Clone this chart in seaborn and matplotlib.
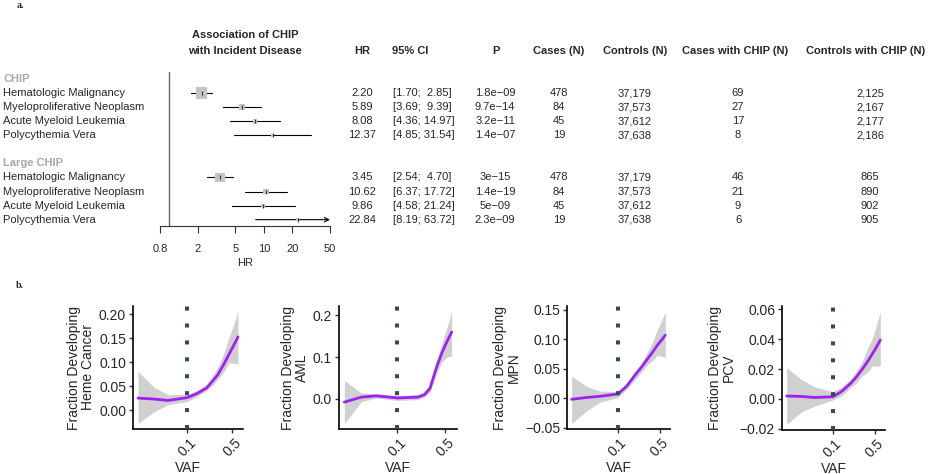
import matplotlib
matplotlib.use("Agg")
import matplotlib.pyplot as plt
import matplotlib.transforms as mtransforms
from matplotlib.ticker import FixedLocator, FuncFormatter, MultipleLocator, NullLocator
import numpy as np
import pandas as pd
import seaborn as sns

# ---- panel a: association of CHIP with incident disease ----
GROUPS = ["CHIP", "Large CHIP"]
OUTCOMES = ["Hematologic Malignancy", "Myeloproliferative Neoplasm",
            "Acute Myeloid Leukemia", "Polycythemia Vera"]
HR = [2.20, 5.89, 8.08, 12.37, 3.45, 10.62, 9.86, 22.84]
CI_LOW = [1.70, 3.69, 4.36, 4.85, 2.54, 6.37, 4.58, 8.19]
CI_HIGH = [2.85, 9.39, 14.97, 31.54, 4.70, 17.72, 21.24, 63.72]
P_VALUES = ["1.8e\u221209", "9.7e\u221214", "3.2e\u221211", "1.4e\u221207",
            "3e\u221215", "1.4e\u221219", "5e\u221209", "2.3e\u221209"]
CASES = [478, 84, 45, 19, 478, 84, 45, 19]
CONTROLS = [37179, 37573, 37612, 37638, 37179, 37573, 37612, 37638]
CASES_CHIP = [69, 27, 17, 8, 46, 21, 9, 6]
CONTROLS_CHIP = [2125, 2167, 2177, 2186, 865, 890, 902, 905]
HR_TICKS = [0.8, 2, 5, 10, 20, 50]

# ---- panel b: smoothed fraction developing disease by VAF ----
VAF = [0.017, 0.03, 0.05, 0.1, 0.14, 0.2, 0.25, 0.3, 0.38, 0.45, 0.53, 0.62]
HEME_FIT = [0.025, 0.023, 0.020, 0.026, 0.034, 0.046, 0.061, 0.074, 0.098, 0.117, 0.135, 0.153]
HEME_LO = [-0.028, -0.004, 0.011, 0.018, 0.028, 0.041, 0.052, 0.064, 0.082, 0.099, 0.098, 0.096]
HEME_HI = [0.081, 0.048, 0.032, 0.033, 0.041, 0.053, 0.072, 0.089, 0.122, 0.153, 0.178, 0.206]
AML_FIT = [-0.008, 0.004, 0.007, 0.002, 0.003, 0.004, 0.010, 0.025, 0.079, 0.111, 0.137, 0.160]
AML_LO = [-0.059, -0.007, 0.002, -0.004, -0.003, -0.002, 0.004, 0.017, 0.064, 0.088, 0.100, 0.103]
AML_HI = [0.044, 0.014, 0.012, 0.008, 0.009, 0.010, 0.017, 0.033, 0.095, 0.135, 0.170, 0.209]
MPN_FIT = [-0.002, 0.001, 0.003, 0.007, 0.020, 0.041, 0.053, 0.064, 0.078, 0.089, 0.098, 0.107]
MPN_LO = [-0.043, -0.022, -0.007, 0.001, 0.015, 0.033, 0.045, 0.055, 0.064, 0.072, 0.071, 0.069]
MPN_HI = [0.037, 0.020, 0.012, 0.011, 0.025, 0.047, 0.060, 0.075, 0.095, 0.115, 0.130, 0.147]
PCV_FIT = [0.0020, 0.0017, 0.0010, 0.0015, 0.0050, 0.0106, 0.0150, 0.0192, 0.0250, 0.0298, 0.0345, 0.0395]
PCV_LO = [-0.017, -0.0086, -0.0047, -0.0007, 0.002, 0.0079, 0.011, 0.015, 0.018, 0.022, 0.022, 0.0224]
PCV_HI = [0.021, 0.013, 0.008, 0.005, 0.008, 0.0133, 0.019, 0.024, 0.034, 0.040, 0.049, 0.0585]
PANEL_LABELS = ["Fraction Developing\nHeme Cancer", "Fraction Developing\nAML",
                "Fraction Developing\nMPN", "Fraction Developing\nPCV"]
VAF_CUTOFF = 0.1

W, H = 930, 474
SANS = ["Liberation Sans", "DejaVu Sans"]
SERIF = ["Liberation Serif", "DejaVu Serif"]


def px_box(left, top, right, bottom):
    return [left / W, 1 - bottom / H, (right - left) / W, (bottom - top) / H]


def minus_fmt(decimals):
    return FuncFormatter(lambda v, _: f"{v:.{decimals}f}".replace("-", "\u2212"))


def forest_panel(fig):
    ax = fig.add_axes(px_box(160, 72, 330, 226))
    n = len(OUTCOMES)
    df = pd.DataFrame({
        "group": np.repeat(GROUPS, n),
        "outcome": OUTCOMES * len(GROUPS),
        "hr": HR, "lo": CI_LOW, "hi": CI_HIGH,
    })
    df["row"] = [g * (n + 2) + 1 + i for g in range(len(GROUPS)) for i in range(n)]
    # inverse-variance weight sets box area
    se = (np.log(df["hi"]) - np.log(df["lo"])) / 3.92
    df["weight"] = 1 / se ** 2

    xmax = HR_TICKS[-1]
    for _, r in df.iterrows():
        if r["hi"] > xmax:
            ax.annotate("", xy=(xmax, r["row"]), xytext=(r["lo"], r["row"]),
                        arrowprops=dict(arrowstyle="->", lw=0.8, color="black",
                                        shrinkA=0, shrinkB=0, mutation_scale=8))
        else:
            ax.plot([r["lo"], r["hi"]], [r["row"], r["row"]], color="black", lw=0.8)
    wmin, wmax = df["weight"].min(), df["weight"].max()
    sns.scatterplot(data=df, x="hr", y="row", size="weight", sizes=(wmin * 1.15, wmax * 1.15),
                    size_norm=(wmin, wmax), marker="s", color="#c4c4c4", edgecolor="none",
                    legend=False, ax=ax, zorder=3)
    ax.scatter(df["hr"], df["row"], marker="|", s=8, color="#333333", lw=0.8, zorder=4)
    ax.axvline(1, color="#666666", lw=1)

    ax.set_xscale("log")
    ax.set_xlim(HR_TICKS[0], HR_TICKS[-1])
    ax.set_ylim(len(GROUPS) * (n + 2) - 1.55, -0.5)
    ax.xaxis.set_major_locator(FixedLocator(HR_TICKS))
    ax.xaxis.set_major_formatter(FuncFormatter(lambda v, _: f"{v:g}"))
    ax.xaxis.set_minor_locator(NullLocator())
    ax.set_yticks([])
    ax.set_ylabel("")
    for s in ["left", "right", "top"]:
        ax.spines[s].set_visible(False)
    ax.spines["bottom"].set_color("#333333")
    ax.spines["bottom"].set_linewidth(0.8)
    ax.tick_params(axis="x", direction="out", length=5, width=0.8, color="#333333",
                   labelsize=8, pad=8)
    ax.set_xlabel("HR", fontsize=8, labelpad=3, family=SANS)
    for lab in ax.get_xticklabels():
        lab.set_family(SANS)
    ax.set_facecolor("none")

    tr = mtransforms.blended_transform_factory(fig.transFigure, ax.transData)
    txt = dict(transform=tr, fontsize=8, va="center", family=SANS)
    for g, name in enumerate(GROUPS):
        ax.text(3 / W, g * (n + 2), name, color="#a8a8a8", fontweight="bold", ha="left", **txt)
    for _, r in df.iterrows():
        ax.text(3 / W, r["row"], r["outcome"], ha="left", **txt)
    for i, r in df.iterrows():
        y = r["row"]
        ax.text(362 / W, y, f"{HR[i]:.2f}", ha="center", **txt)
        ax.text(393 / W, y, f"[{CI_LOW[i]:.2f}; {CI_HIGH[i]:5.2f}]", ha="left", **txt)
        ax.text(495 / W, y, P_VALUES[i], ha="center", **txt)
        ax.text(559 / W, y, f"{CASES[i]:,}", ha="center", **txt)
        ax.text(635 / W, y, f"{CONTROLS[i]:,}", ha="center", **txt)
        ax.text(738 / W, y, f"{CASES_CHIP[i]:,}", ha="center", **txt)
        ax.text(870 / W, y, f"{CONTROLS_CHIP[i]:,}", ha="center", **txt)

    head = dict(fontsize=8, fontweight="bold", va="center", ha="center", family=SANS)
    fig.text(245 / W, 1 - 35 / H, "Association of CHIP", **head)
    fig.text(245 / W, 1 - 51 / H, "with Incident Disease", **head)
    fig.text(362 / W, 1 - 51 / H, "HR", **head)
    fig.text(392 / W, 1 - 51 / H, "95% CI", **{**head, "ha": "left"})
    fig.text(496 / W, 1 - 51 / H, "P", **head)
    fig.text(559 / W, 1 - 51 / H, "Cases (N)", **head)
    fig.text(635 / W, 1 - 51 / H, "Controls (N)", **head)
    fig.text(735 / W, 1 - 51 / H, "Cases with CHIP (N)", **head)
    fig.text(866 / W, 1 - 51 / H, "Controls with CHIP (N)", **head)


def vaf_panel(fig, box, fit, lo, hi, ylabel, ystep, decimals):
    ax = fig.add_axes(px_box(*box))
    df = pd.DataFrame({"vaf": VAF, "fit": fit, "lo": lo, "hi": hi})
    ax.fill_between(df["vaf"], df["lo"], df["hi"], color="#d0d0d0", lw=0, zorder=1)
    sns.lineplot(data=df, x="vaf", y="fit", color="#a020f0", lw=2, ax=ax, zorder=2)
    ax.set_xscale("log")
    ax.margins(x=0.05, y=0.05)
    ax.autoscale_view()
    ax.axvline(VAF_CUTOFF, color="#2f4f4f", lw=2.9, ls=(0, (1, 3.2)),
               dash_capstyle="butt", zorder=3)
    ax.xaxis.set_major_locator(FixedLocator([0.1, 0.5]))
    ax.xaxis.set_major_formatter(FuncFormatter(lambda v, _: f"{v:g}"))
    ax.xaxis.set_minor_locator(NullLocator())
    ax.yaxis.set_major_locator(MultipleLocator(ystep))
    ax.yaxis.set_major_formatter(minus_fmt(decimals))
    sns.despine(ax=ax)
    for s in ["left", "bottom"]:
        ax.spines[s].set_linewidth(1.2)
        ax.spines[s].set_color("black")
    ax.tick_params(length=3, width=1, color="#333333", labelsize=10, pad=2)
    for lab in ax.get_xticklabels():
        lab.set_rotation(45)
        lab.set_ha("center")
        lab.set_va("top")
    ax.set_xlabel("VAF", fontsize=10, labelpad=1)
    ax.set_ylabel(ylabel, fontsize=10, labelpad=3, linespacing=0.95)
    return ax


def main():
    sns.set_theme(style="ticks")
    plt.rcParams["font.family"] = SANS

    fig = plt.figure(figsize=(W / 100, H / 100), dpi=100)
    fig.patch.set_facecolor("white")

    fig.text(20 / W, 1 - 6 / H, "a.", fontsize=7, fontweight="bold", family=SERIF,
             ha="center", va="center")
    fig.text(20 / W, 1 - 286 / H, "b.", fontsize=7, fontweight="bold", family=SERIF,
             ha="center", va="center")

    forest_panel(fig)

    vaf_panel(fig, (133, 306, 243, 429), HEME_FIT, HEME_LO, HEME_HI, PANEL_LABELS[0], 0.05, 2)
    vaf_panel(fig, (339, 306, 457, 429), AML_FIT, AML_LO, AML_HI, PANEL_LABELS[1], 0.1, 1)
    vaf_panel(fig, (567, 306, 670, 429), MPN_FIT, MPN_LO, MPN_HI, PANEL_LABELS[2], 0.05, 2)
    vaf_panel(fig, (782, 306, 885, 430), PCV_FIT, PCV_LO, PCV_HI, PANEL_LABELS[3], 0.02, 2)

    fig.savefig("out.png", dpi=100)
    plt.close(fig)


if __name__ == "__main__":
    main()
